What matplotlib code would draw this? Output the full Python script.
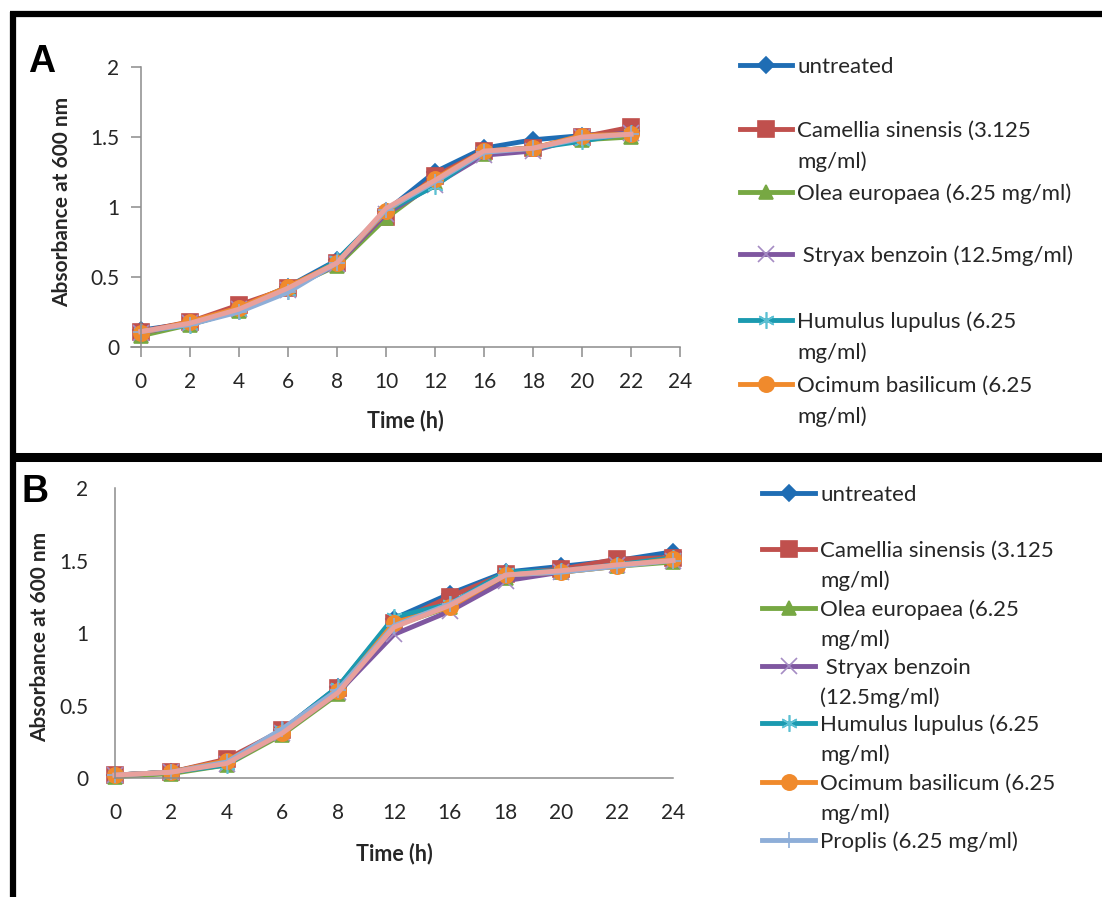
import matplotlib
matplotlib.use('Agg')
import matplotlib.pyplot as plt
from matplotlib.lines import Line2D

plt.rcParams['font.family'] = ['Lato', 'DejaVu Sans']

# --- data ---
time_labels_a = ['0', '2', '4', '6', '8', '10', '12', '16', '18', '20', '22', '24']
time_labels_b = ['0', '2', '4', '6', '8', '12', '16', '18', '20', '22', '24']

untreated_a = [0.12, 0.17, 0.28, 0.43, 0.62, 0.97, 1.25, 1.42, 1.48, 1.51, 1.54]
camellia_a = [0.11, 0.18, 0.30, 0.42, 0.60, 0.93, 1.22, 1.40, 1.42, 1.50, 1.57]
olea_a = [0.08, 0.16, 0.26, 0.42, 0.58, 0.92, 1.18, 1.38, 1.42, 1.48, 1.50]
stryax_a = [0.10, 0.17, 0.27, 0.41, 0.59, 0.95, 1.16, 1.37, 1.40, 1.50, 1.53]
humulus_a = [0.11, 0.16, 0.26, 0.40, 0.62, 0.97, 1.15, 1.40, 1.42, 1.47, 1.53]
ocimum_a = [0.10, 0.18, 0.28, 0.43, 0.60, 0.97, 1.20, 1.40, 1.42, 1.51, 1.52]
proplis_a = [0.11, 0.16, 0.25, 0.39, 0.60, 0.98, 1.18, 1.39, 1.42, 1.49, 1.52]
extra_a = [0.11, 0.17, 0.27, 0.42, 0.60, 0.99, 1.19, 1.40, 1.42, 1.50, 1.52]

untreated_b = [0.02, 0.04, 0.12, 0.33, 0.63, 1.10, 1.27, 1.42, 1.46, 1.50, 1.56]
camellia_b = [0.02, 0.04, 0.13, 0.33, 0.62, 1.07, 1.25, 1.41, 1.44, 1.51, 1.52]
olea_b = [0.01, 0.03, 0.09, 0.30, 0.58, 1.05, 1.18, 1.38, 1.42, 1.46, 1.49]
stryax_b = [0.02, 0.04, 0.10, 0.31, 0.59, 0.99, 1.15, 1.36, 1.42, 1.47, 1.50]
humulus_b = [0.02, 0.04, 0.09, 0.33, 0.63, 1.11, 1.20, 1.42, 1.43, 1.47, 1.52]
ocimum_b = [0.02, 0.04, 0.12, 0.31, 0.60, 1.07, 1.18, 1.40, 1.42, 1.46, 1.51]
proplis_b = [0.02, 0.04, 0.11, 0.34, 0.61, 1.05, 1.20, 1.40, 1.42, 1.46, 1.50]
extra_b = [0.02, 0.04, 0.10, 0.31, 0.59, 1.04, 1.19, 1.40, 1.43, 1.47, 1.50]

names_a = ['untreated', 'Camellia sinensis (3.125\nmg/ml)', 'Olea europaea (6.25 mg/ml)',
           ' Stryax benzoin (12.5mg/ml)', 'Humulus lupulus (6.25\nmg/ml)',
           'Ocimum basilicum (6.25\nmg/ml)']
names_b = ['untreated', 'Camellia sinensis (3.125\nmg/ml)', 'Olea europaea (6.25\nmg/ml)',
           ' Stryax benzoin\n(12.5mg/ml)', 'Humulus lupulus (6.25\nmg/ml)',
           'Ocimum basilicum (6.25\nmg/ml)', 'Proplis (6.25 mg/ml)']

# series styles: colour, marker, marker size, marker colour
styles = [
    ('#1f6db4', 'D', 8, '#1f6db4'),
    ('#c0504d', 's', 11, '#c0504d'),
    ('#77a843', '^', 10, '#77a843'),
    ('#7f57a0', 'x', 11, '#a58cc4'),
    ('#1b9ab0', (6, 2, 0), 12, '#5cc0d3'),
    ('#f08a2c', 'o', 11, '#f08a2c'),
    ('#8eaed8', '+', 12, '#8eaed8'),
    ('#e8a09c', None, 0, '#e8a09c'),
]

W, H = 1102, 897
fig = plt.figure(figsize=(W / 100, H / 100), dpi=100)
fig.patch.set_facecolor('white')


def fx(x):
    return x / W


def fy(y):
    return 1 - y / H


AXIS_GREY = '#8c8c8c'
TEXT = '#262626'
LW = 3.5


def draw_series(ax, series):
    for vals, (col, mk, ms, mc) in zip(series, styles):
        xs = range(len(vals))
        ax.plot(xs, vals, color=col, lw=LW, marker=mk, markersize=ms,
                markerfacecolor=mc, markeredgecolor=mc, markeredgewidth=1.2,
                solid_joinstyle='round', clip_on=False)


def style_axes(ax):
    for s in ['top', 'right']:
        ax.spines[s].set_visible(False)
    for s in ['left', 'bottom']:
        ax.spines[s].set_color(AXIS_GREY)
        ax.spines[s].set_linewidth(1.1)
    ax.set_facecolor('none')


# --- Panel A ---
ax_a = fig.add_axes([fx(131), fy(347), (680 - 131) / W, (347 - 67) / H])
draw_series(ax_a, [untreated_a, camellia_a, olea_a, stryax_a, humulus_a, ocimum_a,
                   proplis_a, extra_a])
style_axes(ax_a)
ax_a.spines['left'].set_position(('data', 0))
ax_a.set_xlim(-0.2, 11)
ax_a.set_ylim(0, 2)
ax_a.set_xticks(range(len(time_labels_a)))
ax_a.set_xticklabels(time_labels_a)
ax_a.set_yticks([0, 0.5, 1, 1.5, 2])
ax_a.set_yticklabels(['0', '0.5', '1', '1.5', '2'])
ax_a.tick_params(axis='both', colors=AXIS_GREY, labelcolor=TEXT, labelsize=15,
                 length=7, width=1.1)
ax_a.tick_params(axis='x', pad=11)
ax_a.tick_params(axis='y', pad=8.5)
ax_a.set_xlabel('Time (h)', fontsize=15.5, fontweight='bold', color=TEXT, labelpad=13)
fig.text(fx(62), fy(202), 'Absorbance at 600 nm', rotation=90, ha='center', va='center',
         fontsize=15, fontweight='bold', color=TEXT)
fig.text(fx(28), fy(62), 'A', fontsize=27, fontweight='bold', color='black',
         ha='left', va='center', family=['Liberation Sans', 'DejaVu Sans'])

# --- Panel B ---
ax_b = fig.add_axes([fx(115), fy(778), (673 - 115) / W, (778 - 488) / H])
draw_series(ax_b, [untreated_b, camellia_b, olea_b, stryax_b, humulus_b, ocimum_b,
                   proplis_b, extra_b])
style_axes(ax_b)
ax_b.set_xlim(0, 10)
ax_b.set_ylim(0, 2)
ax_b.set_xticks(range(len(time_labels_b)))
ax_b.set_xticklabels(time_labels_b)
ax_b.set_yticks([0, 0.5, 1, 1.5, 2])
ax_b.set_yticklabels(['0', '0.5', '1', '1.5', '2'])
ax_b.tick_params(axis='both', length=0, labelcolor=TEXT, labelsize=15)
ax_b.tick_params(axis='x', pad=18)
ax_b.tick_params(axis='y', pad=19)
ax_b.set_xlabel('Time (h)', fontsize=15.5, fontweight='bold', color=TEXT, labelpad=14)
fig.text(fx(40), fy(637), 'Absorbance at 600 nm', rotation=90, ha='center', va='center',
         fontsize=15, fontweight='bold', color=TEXT)
fig.text(fx(22), fy(492), 'B', fontsize=27, fontweight='bold', color='black',
         ha='left', va='center', family=['Liberation Sans', 'DejaVu Sans'])


# --- legends (drawn by hand to match the spacing) ---
def legend_block(x0, x1, xt, rows, names, step=31):
    for name, row, (col, mk, ms, mc) in zip(names, rows, styles):
        fig.add_artist(Line2D([fx(x0), fx(x1)], [fy(row), fy(row)], color=col, lw=LW,
                              transform=fig.transFigure))
        if mk is not None:
            fig.add_artist(Line2D([fx((x0 + x1) / 2)], [fy(row)], marker=mk, markersize=ms,
                                  markerfacecolor=mc, markeredgecolor=mc, markeredgewidth=1.2,
                                  linestyle='none', transform=fig.transFigure))
        for i, line in enumerate(name.split('\n')):
            fig.text(fx(xt), fy(row + 8 + i * step), line, ha='left', va='baseline',
                     fontsize=16, color=TEXT)


legend_block(740, 792, 797, [65, 129, 192, 254, 320, 384], names_a)
legend_block(762, 815, 820, [493, 549, 608, 666, 723, 782, 840], names_b, step=30)

# --- panel frames ---
frame = dict(color='black', lw=4.5, transform=fig.transFigure, solid_capstyle='butt')
fig.add_artist(Line2D([fx(12.5), fx(12.5)], [fy(12), fy(H + 5)], **frame))
fig.add_artist(Line2D([fx(10), fx(W + 5)], [fy(14.5), fy(14.5)], **frame))
fig.add_artist(Line2D([fx(10), fx(W + 5)], [fy(457), fy(457)], color='black', lw=6.5,
                      transform=fig.transFigure, solid_capstyle='butt'))

fig.savefig('out.png', dpi=100, facecolor='white')
